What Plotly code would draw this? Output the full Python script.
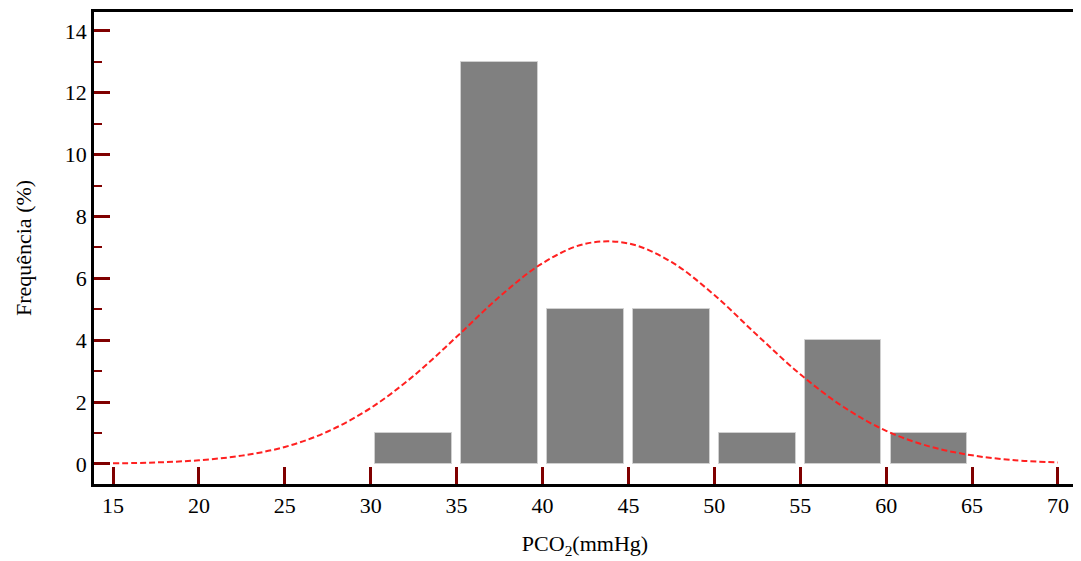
import plotly.graph_objects as go

# Histogram data (bin centers, counts)
bin_centers = [32.5, 37.5, 42.5, 47.5, 52.5, 57.5, 62.5]
counts = [1, 13, 5, 5, 1, 4, 1]

# Normal curve
curve_x = [15, 17.5, 20, 22.5, 25, 27.5, 30, 32.5, 35, 37.5, 40, 42.5, 45,
           47.5, 50, 52.5, 55, 57.5, 60, 62.5, 65, 67.5, 70]
curve_y = [0.02, 0.05, 0.12, 0.27, 0.55, 1.05, 1.81, 2.85, 4.11, 5.41, 6.49, 7.12, 7.13,
           6.53, 5.46, 4.16, 2.90, 1.85, 1.07, 0.57, 0.28, 0.12, 0.05]

x_ticks = [15, 20, 25, 30, 35, 40, 45, 50, 55, 60, 65, 70]
y_ticks = [0, 2, 4, 6, 8, 10, 12, 14]

fig = go.Figure()
fig.add_trace(go.Bar(
    x=bin_centers, y=counts, width=4.45,
    marker=dict(color="#808080", line=dict(color="#d0d0d0", width=1)),
    showlegend=False,
))
fig.add_trace(go.Scatter(
    x=curve_x, y=curve_y, mode="lines", line_shape="spline",
    line=dict(color="#ff2020", width=2, dash="6px,3px"),
    showlegend=False,
))

font_family = "Liberation Serif"
fig.update_layout(
    width=1073, height=553,
    margin=dict(l=86, r=5, t=4, b=77),
    paper_bgcolor="white", plot_bgcolor="white",
    font=dict(family=font_family, size=22, color="black"),
    bargap=0,
    xaxis=dict(
        range=[13.894, 71.05], tickvals=x_ticks, ticks="inside", ticklen=17,
        tickwidth=3, tickcolor="#800000", showline=True, linecolor="black",
        linewidth=2.5, mirror=True, showgrid=False, zeroline=False,
        automargin=False,
        title=dict(text="PCO<sub>2</sub>(mmHg)", font=dict(size=22), standoff=19),
        tickfont=dict(size=22),
    ),
    yaxis=dict(
        range=[-0.647, 14.61], tickvals=y_ticks, ticks="inside", ticklen=16,
        tickwidth=3, tickcolor="#800000", showline=True, linecolor="black",
        linewidth=2.5, mirror=True, showgrid=False, zeroline=False,
        automargin=False,
        minor=dict(tickvals=[1, 3, 5, 7, 9, 11, 13], ticks="inside", ticklen=8,
                   tickwidth=2, tickcolor="#800000", showgrid=False),
        title=dict(text="Frequência (%)", font=dict(size=22), standoff=28),
        tickfont=dict(size=22),
    ),
)
fig.write_html("out.html")
